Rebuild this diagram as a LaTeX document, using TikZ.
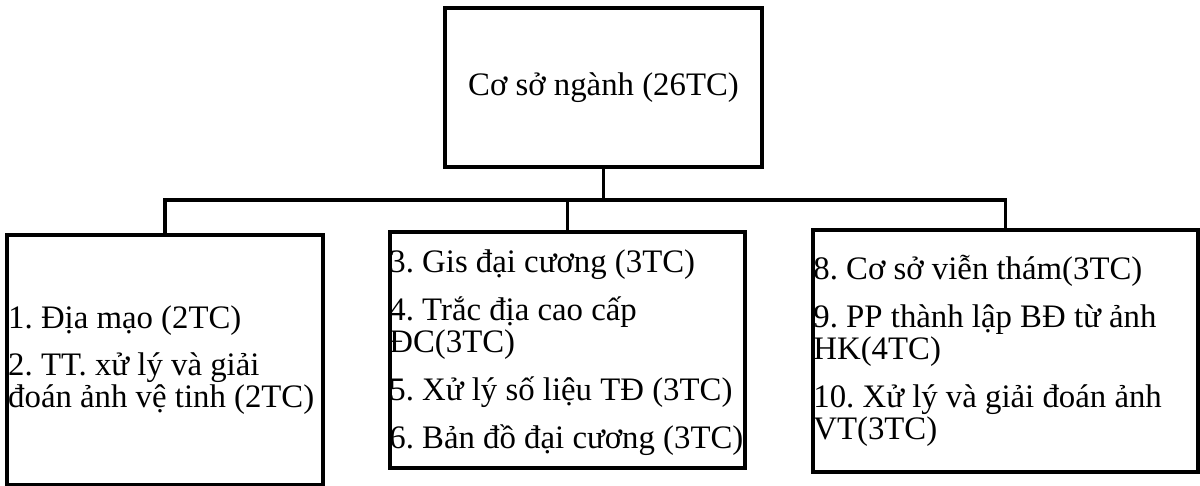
\documentclass[tikz,border=0pt]{standalone}
\usepackage{fontspec}
\setmainfont{Liberation Serif}

\begin{document}
\begin{tikzpicture}[x=0.5pt, y=-0.5pt,
        caja/.style={draw, line width=1.6pt, rectangle},
        texto/.style={anchor=west, inner sep=0pt, align=left,
            font=\fontsize{16.4pt}{16pt}\selectfont\frenchspacing},
        enlace/.style={line width=1.6pt}]
        % Fija el marco del dibujo.
        \useasboundingbox (0,0) rectangle (1200,486);
    
        % Dibuja la caja superior con su título.
        \node[caja, minimum width=158.5pt, minimum height=79.5pt,
            texto, anchor=center]
            (raiz) at (603.5,87.5) {Cơ sở ngành (26TC)};
    
        % Dibuja las tres cajas inferiores.
        \node[caja, minimum width=158pt, minimum height=125pt]
            (izq) at (165,360) {};
        \node[caja, minimum width=177.5pt, minimum height=118pt]
            (centro) at (567.5,350) {};
        \node[caja, minimum width=192.5pt, minimum height=121pt]
            (der) at (1005.5,351) {};
    
        % Escribe las asignaturas de cada caja.
        \node[texto] (izqtxt) at ([xshift=1.2pt]izq.west)
            {1. Địa mạo (2TC)\\[7.5pt]
             2. TT. xử lý và giải\\
             đoán ảnh vệ tinh (2TC)};
        \node[texto] (centrotxt) at ([xshift=0.3pt, yshift=-1.5pt]centro.west)
            {3. Gis đại cương (3TC)\\[8pt]
             4. Trắc địa cao cấp\\
             ĐC(3TC)\\[8pt]
             5. Xử lý số liệu TĐ (3TC)\\[8pt]
             6. Bản đồ đại cương (3TC)};
        \node[texto] (dertxt) at ([xshift=0.8pt]der.west)
            {8. Cơ sở viễn thám(3TC)\\[8pt]
             9. PP thành lập BĐ từ ảnh\\
             HK(4TC)\\[8pt]
             10. Xử lý và giải đoán ảnh\\
             VT(3TC)};
    
        % Une la caja superior con las inferiores.
        \coordinate (bus) at (603.5,200);
        \draw[enlace] (raiz.south) -- (bus);
        \draw[enlace] (izq.north) |- (bus) -| (der.north);
        \draw[enlace] (centro.north) -- (centro.north |- bus);
    \end{tikzpicture}
\end{document}
